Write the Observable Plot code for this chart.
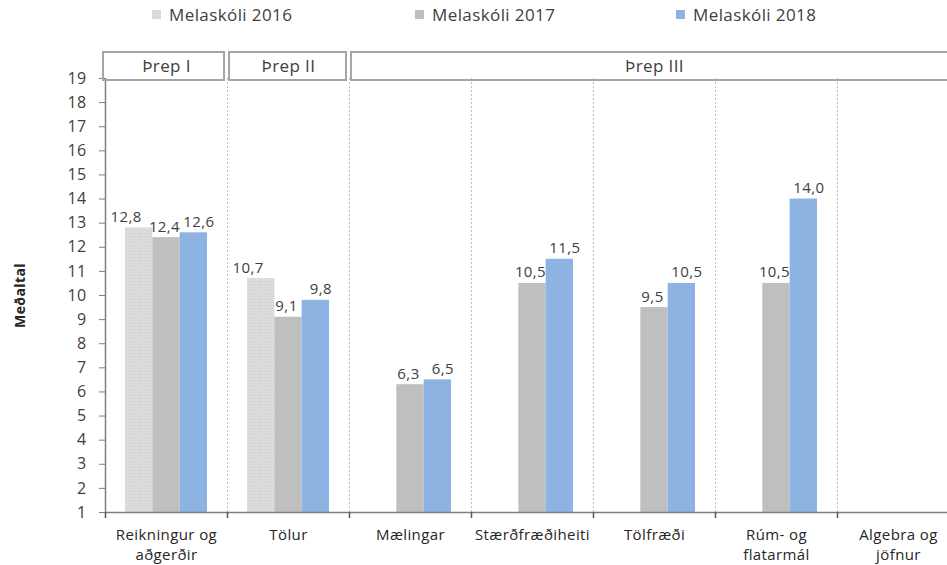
<!DOCTYPE html>
<html>
<head>
<meta charset="utf-8">
<script src="https://cdn.jsdelivr.net/npm/d3@7"></script>
<script src="https://cdn.jsdelivr.net/npm/@observablehq/plot@0.6"></script>
<style>
  body { margin: 0; background: #fff; font-family: "Open Sans", sans-serif; }
  #legend { position: relative; height: 35px; width: 947px; }
  .item { position: absolute; top: 3px; display: flex; align-items: center; font-size: 17px; letter-spacing: 0.4px; color: #404040; }
  .sw { width: 9px; height: 9px; margin-right: 8px; }
  #chart svg { display: block; }
</style>
</head>
<body>
<div id="legend"></div>
<div id="chart"></div>
<script>
// ---- data ----
const categories = ["Reikningur og\naðgerðir", "Tölur", "Mælingar", "Stærðfræðiheiti", "Tölfræði", "Rúm- og\nflatarmál", "Algebra og\njöfnur"];
const series = ["Melaskóli 2016", "Melaskóli 2017", "Melaskóli 2018"];
const v2016 = [12.8, 10.7, null, null, null, null, null];
const v2017 = [12.4, 9.1, 6.3, 10.5, 9.5, 10.5, null];
const v2018 = [12.6, 9.8, 6.5, 11.5, 10.5, 14.0, null];
const stageLabels = ["Þrep I", "Þrep II", "Þrep III"];
const stageFrom = ["Reikningur og\naðgerðir", "Tölur", "Mælingar"];
const stageTo = ["Reikningur og\naðgerðir", "Tölur", "Algebra og\njöfnur"];
const yTicks = d3.range(1, 20);

// ---- style ----
const colors = ["#dadada", "#bfbfbf", "#8db3e2"];
const barFills = ["url(#dots2016)", "#bfbfbf", "#8db3e2"];
const labelShift = [-13, -2, 5];
const legendX = [152, 415, 676];

// legend
const leg = document.getElementById("legend");
series.forEach((s, j) => {
  const d = document.createElement("div");
  d.className = "item";
  d.style.left = legendX[j] + "px";
  d.innerHTML = `<span class="sw" style="background:${colors[j]}"></span>${s}`;
  leg.appendChild(d);
});

// table
const values = [v2016, v2017, v2018];
const rows = [];
categories.forEach((c, i) => series.forEach((s, j) => {
  const v = values[j][i];
  if (v != null) rows.push({cat: c, i, j, series: s, value: v});
}));
const stages = stageLabels.map((l, k) => ({label: l, from: categories.indexOf(stageFrom[k]), to: categories.indexOf(stageTo[k]) + 1}));

const groupPad = 20 / 122, barW = 27.33 / 122;
const fmt = v => v.toFixed(1).replace(".", ",");
const bounds = d3.range(0, categories.length + 1);

const labelMarks = series.map((s, j) => Plot.text(rows.filter(d => d.j === j), {
  x: d => d.i + groupPad + (d.j + 0.5) * barW,
  y: "value", text: d => fmt(d.value),
  dx: labelShift[j], dy: -6, lineAnchor: "bottom", fontSize: 15, fill: "#404040"
}));

const boxStyle = {x1: "from", x2: "to", y1: 19, y2: 19, insetTop: -26, insetBottom: -2, insetRight: 3, fill: "none", stroke: "#a6a6a6", strokeWidth: 2};

const plot = Plot.plot({
  width: 947,
  height: 530,
  marginTop: 43,
  marginBottom: 53,
  marginLeft: 105,
  marginRight: 0,
  style: {fontFamily: "Open Sans, sans-serif", fontSize: "15px", color: "#404040", background: "#fff", letterSpacing: "0.4px"},
  x: {type: "linear", domain: [0, categories.length], range: [105, 959], axis: null},
  y: {type: "linear", domain: [1, 19], axis: null},
  color: {domain: series, range: barFills},
  marks: [
    // dashed category separators
    Plot.ruleX(bounds.slice(1), {y1: 1, y2: 19, stroke: "#bfbfbf", strokeDasharray: "2,2", strokeWidth: 1}),
    // bars
    Plot.rectY(rows, {
      x1: d => d.i + groupPad + d.j * barW,
      x2: d => d.i + groupPad + (d.j + 1) * barW,
      y1: 1, y2: "value", fill: "series"
    }),
    // value labels
    ...labelMarks,
    // y axis line and ticks
    Plot.ruleX([0], {y1: 1, y2: 19, stroke: "#7f7f7f", strokeWidth: 1.5}),
    Plot.ruleY(yTicks, {y: d => d, x1: 0, x2: 0, insetLeft: -6, insetRight: 0, stroke: "#7f7f7f", strokeWidth: 1}),
    Plot.text(yTicks, {y: d => d, x: 0, dx: -19, text: d => String(d), textAnchor: "end", fontSize: 16, fill: "#404040"}),
    // x axis line and boundary ticks
    Plot.ruleY([1], {stroke: "#7f7f7f", strokeWidth: 1.5}),
    Plot.ruleX(bounds, {x: d => d, y1: 1, y2: 1, insetTop: 0, insetBottom: -6, stroke: "#595959", strokeWidth: 1.5}),
    // category labels
    Plot.text(categories, {x: (d, i) => i + 0.5, y: 1, text: d => d, dy: 13, lineAnchor: "top", lineHeight: 1.33, fontSize: 15, fill: "#262626"}),
    // stage header boxes
    Plot.rect(stages.filter(d => d.from === 0), {...boxStyle, insetLeft: -2}),
    Plot.rect(stages.filter(d => d.from !== 0), {...boxStyle, insetLeft: 2}),
    Plot.text(stages, {x: d => (d.from + d.to) / 2, y: 19, text: "label", dy: -12, fontSize: 17, fill: "#404040"}),
    // y label
    Plot.text(["Meðaltal"], {frameAnchor: "left", textAnchor: "middle", dx: -85, rotate: -90, fontSize: 14, fontWeight: "bold", fill: "#262626", letterSpacing: "0px"})
  ]
});
plot.insertAdjacentHTML("afterbegin",
  `<defs><pattern id="dots2016" width="3" height="3" patternUnits="userSpaceOnUse">
     <rect width="3" height="3" fill="#dadada"></rect>
     <rect width="1" height="1" fill="#d0d0d0"></rect>
     <rect x="1.5" y="1.5" width="1" height="1" fill="#e2e2e2"></rect>
   </pattern></defs>`);
document.getElementById("chart").appendChild(plot);
</script>
</body>
</html>
